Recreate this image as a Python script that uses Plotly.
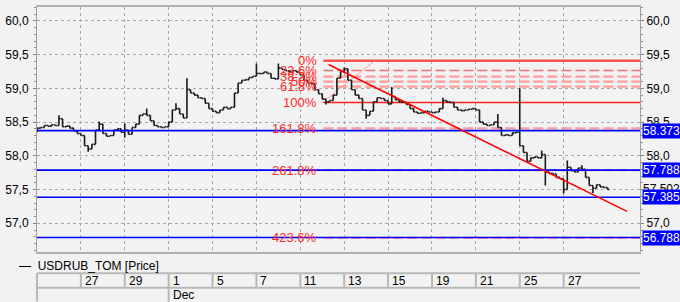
import plotly.graph_objects as go

# ---------------- data ----------------
BARS_PER_DAY = 6
first_open = 58.40
closes = [
    58.41, 58.42, 58.45, 58.44, 58.46, 58.45, 58.55, 58.43, 58.44, 58.41,
    58.37, 58.33, 58.30, 58.15, 58.10, 58.17, 58.38, 58.47, 58.33, 58.29,
    58.30, 58.38, 58.40, 58.35, 58.38, 58.32, 58.42, 58.47, 58.60, 58.62,
    58.60, 58.52, 58.45, 58.43, 58.42, 58.43, 58.50, 58.68, 58.70, 58.62,
    58.56, 58.98, 58.93, 58.90, 58.86, 58.85, 58.78, 58.70, 58.66, 58.64,
    58.68, 58.72, 58.70, 58.72, 58.93, 59.08, 59.12, 59.13, 59.16, 59.18,
    59.22, 59.22, 59.24, 59.22, 59.15, 59.14, 59.30, 59.28, 59.26, 59.24,
    59.26, 59.24, 59.20, 59.12, 59.08, 59.07, 58.98, 58.92, 58.84, 58.80,
    58.82, 58.90, 59.15, 59.25, 59.29, 59.12, 58.98, 58.90, 58.85, 58.68,
    58.60, 58.66, 58.80, 58.86, 58.85, 58.82, 58.77, 58.88, 58.83, 58.80,
    58.79, 58.76, 58.70, 58.65, 58.63, 58.64, 58.66, 58.65, 58.64, 58.65,
    58.70, 58.82, 58.80, 58.79, 58.72, 58.68, 58.67, 58.68, 58.69, 58.70,
    58.68, 58.50, 58.47, 58.45, 58.46, 58.50, 58.42, 58.30, 58.31, 58.30,
    58.34, 58.35, 58.15, 58.05, 57.92, 57.97, 57.98, 57.97, 58.02, 57.76,
    57.74, 57.73, 57.68, 57.66, 57.50, 57.83, 57.78, 57.76, 57.82, 57.80,
    57.68, 57.56, 57.52, 57.57, 57.54, 57.53, 57.502,
]
high_marks = {6: 58.60, 17: 58.51, 24: 58.48, 30: 58.70, 38: 58.78, 41: 59.15,
              60: 59.37, 66: 59.37, 84: 59.31, 97: 59.02, 111: 58.86, 126: 58.62,
              132: 59.00, 138: 58.08, 145: 57.93, 149: 57.86}
low_marks = {0: 58.35, 14: 58.06, 24: 58.27, 79: 58.76, 90: 58.55, 139: 57.56,
             144: 57.44, 152: 57.45}

fib_start_day = 13.05
fib_0 = 59.41
fib_100 = 58.79
fib_ratios = [0.0, 23.6, 38.2, 50.0, 61.8, 100.0, 161.8, 261.8, 423.6]
fib_labels = ["0%", "23.6%", "38.2%", "50%", "61.8%", "100%", "161.8%", "261.8%", "423.6%"]
fib_anchor_days = [13.0, 15.4]  # 100% point -> 0% point

levels = [58.373, 57.788, 57.385, 56.788]
last_price = 57.502

trend_days = [13.29, 26.89]
trend_values = [59.353, 57.176]

tick_days = [2, 4, 6, 8, 10, 12, 14, 16, 18, 20, 22, 24]
tick_labels = ["27", "29", "1", "5", "7", "11", "13", "15", "19", "21", "25", "27"]
month_label = "Dec"
month_day = 6

y_ticks = [57.0, 57.5, 58.0, 58.5, 59.0, 59.5, 60.0]
y_ticktext = ["57,0", "57,5", "58,0", "58,5", "59,0", "59,5", "60,0"]
right_ticks = [57.0, 58.0, 58.5, 59.0, 59.5, 60.0]
right_ticktext = ["57,0", "58,0", "58,5", "59,0", "59,5", "60,0"]

series_name = "USDRUB_TOM [Price]"

# ---------------- build ----------------
X_MAX = 27.48
Y_RANGE = [56.574, 60.206]
BG = "#f2f2f2"
FONT = "Liberation Sans"

xs = [i / BARS_PER_DAY for i in range(len(closes))]
opens = [first_open] + closes[:-1]
highs = [max(o, c, high_marks.get(i, c)) for i, (o, c) in enumerate(zip(opens, closes))]
lows = [min(o, c, low_marks.get(i, c)) for i, (o, c) in enumerate(zip(opens, closes))]

fig = go.Figure()
fig.add_trace(go.Ohlc(
    x=xs, open=opens, high=highs, low=lows, close=closes,
    increasing_line_color="#1a1a1a", decreasing_line_color="#1a1a1a",
    line_width=1.6, tickwidth=0.45, hoverinfo="skip", showlegend=False,
))
fig.add_trace(go.Scatter(x=xs, y=closes, yaxis="y2", mode="lines",
                         line=dict(width=0), opacity=0, hoverinfo="skip", showlegend=False))

shapes = []
annotations = []

# Fibonacci levels
rng = fib_0 - fib_100
for r, lab in zip(fib_ratios, fib_labels):
    v = fib_0 - rng * r / 100.0
    if r == 0:
        line = dict(color="#ff5050", width=2.5)
    elif r == 100:
        line = dict(color="#ff2020", width=1.5)
    elif r == 23.6:
        line = dict(color="#f07070", width=1.5, dash="10px,4px")
    else:
        line = dict(color="#ff9c9c", width=2.2, dash="10px,4px")
    shapes.append(dict(type="line", xref="x", yref="y", x0=fib_start_day, x1=X_MAX,
                       y0=v, y1=v, line=line, layer="between"))
    annotations.append(dict(x=fib_start_day, y=v, xref="x", yref="y", text=lab,
                            showarrow=False, xanchor="right", yanchor="middle", xshift=-4,
                            font=dict(family=FONT, size=13, color="#ff2a2a")))
shapes.append(dict(type="line", xref="x", yref="y", x0=fib_anchor_days[0], x1=fib_anchor_days[1],
                   y0=fib_100, y1=fib_0, line=dict(color="#ff9c9c", width=1), layer="between"))

# blue levels
for v in levels:
    shapes.append(dict(type="line", xref="x", yref="y", x0=0, x1=X_MAX, y0=v, y1=v,
                       line=dict(color="#0000ff", width=1.6), layer="above"))

# trend line
shapes.append(dict(type="line", xref="x", yref="y", x0=trend_days[0], x1=trend_days[1],
                   y0=trend_values[0], y1=trend_values[1],
                   line=dict(color="#ff0000", width=1.5), layer="above"))

# right labels
annotations.append(dict(xref="paper", x=1, yref="y", y=last_price, text=f"{last_price:.3f}",
                        showarrow=False, xanchor="left", yanchor="middle", xshift=2,
                        bgcolor=BG, borderpad=0, font=dict(family=FONT, size=12, color="#000000")))
for v in levels:
    annotations.append(dict(xref="paper", x=1, yref="y", y=v, text=f"{v:.3f}",
                            showarrow=False, xanchor="left", yanchor="middle", xshift=2,
                            bgcolor="#0000ff", borderpad=0,
                            font=dict(family=FONT, size=12, color="#ffffff")))

# date table below plot
def px_y(py):
    return (252 - py) / 247.0

row_top, row_mid, row_bot = px_y(273.5), px_y(288), px_y(302)
tcol = "#b8b8b8"
shapes.append(dict(type="line", xref="paper", yref="paper", x0=0, x1=1, y0=row_top, y1=row_top,
                   line=dict(color=tcol, width=2)))
shapes.append(dict(type="line", xref="paper", yref="paper", x0=0, x1=1, y0=row_mid, y1=row_mid,
                   line=dict(color=tcol, width=2)))
shapes.append(dict(type="line", xref="paper", yref="paper", x0=0, x1=0, y0=row_top, y1=row_bot,
                   line=dict(color=tcol, width=2)))
for d, lab in zip(tick_days, tick_labels):
    xp = d / X_MAX
    shapes.append(dict(type="line", xref="paper", yref="paper", x0=xp, x1=xp, y0=row_top, y1=row_mid,
                       line=dict(color=tcol, width=2)))
    annotations.append(dict(xref="paper", x=xp, yref="paper", y=(row_top + row_mid) / 2, text=lab,
                            showarrow=False, xanchor="left", yanchor="middle", xshift=2,
                            font=dict(family=FONT, size=12, color="#000000")))
xp = month_day / X_MAX
shapes.append(dict(type="line", xref="paper", yref="paper", x0=xp, x1=xp, y0=row_mid, y1=row_bot,
                   line=dict(color=tcol, width=2)))
annotations.append(dict(xref="paper", x=xp, yref="paper", y=(row_mid + row_bot) / 2, text=month_label,
                        showarrow=False, xanchor="left", yanchor="middle", xshift=2,
                        font=dict(family=FONT, size=12, color="#000000")))

# legend text
annotations.append(dict(xref="paper", x=(12 - 32) / 608.0, yref="paper", y=px_y(266),
                        text="—  " + series_name, showarrow=False, xanchor="left", yanchor="middle",
                        font=dict(family=FONT, size=12, color="#000000")))

fig.update_layout(
    width=680, height=302,
    margin=dict(l=32, r=40, t=5, b=50, pad=0),
    paper_bgcolor=BG, plot_bgcolor=BG,
    showlegend=False,
    font=dict(family=FONT, size=12, color="#000000"),
    shapes=shapes, annotations=annotations,
    xaxis=dict(range=[0, X_MAX], tickvals=tick_days, showticklabels=False, ticks="",
               showgrid=True, gridcolor="#a8a8a8", griddash="dot", gridwidth=1,
               zeroline=False, showline=True, mirror=True, linecolor="#b0b0b0", linewidth=2,
               rangeslider=dict(visible=False), fixedrange=True),
    yaxis=dict(range=Y_RANGE, tickvals=y_ticks, ticktext=y_ticktext, ticks="outside", ticklen=3,
               tickcolor="#808080", showgrid=True, gridcolor="#a8a8a8", griddash="dot", gridwidth=1,
               zeroline=False, showline=True, linecolor="#a0a0a0", linewidth=1,
               minor=dict(dtick=0.1, ticks="outside", ticklen=2, tickcolor="#909090", showgrid=False),
               ticklabelstandoff=2),
    yaxis2=dict(range=Y_RANGE, overlaying="y", side="right", tickvals=right_ticks,
                ticktext=right_ticktext, ticks="outside", ticklen=3, tickcolor="#808080",
                showgrid=False, zeroline=False, showline=True, linecolor="#a0a0a0", linewidth=1,
                minor=dict(dtick=0.1, ticks="outside", ticklen=2, tickcolor="#909090", showgrid=False)),
)

fig.write_html("out.html")
